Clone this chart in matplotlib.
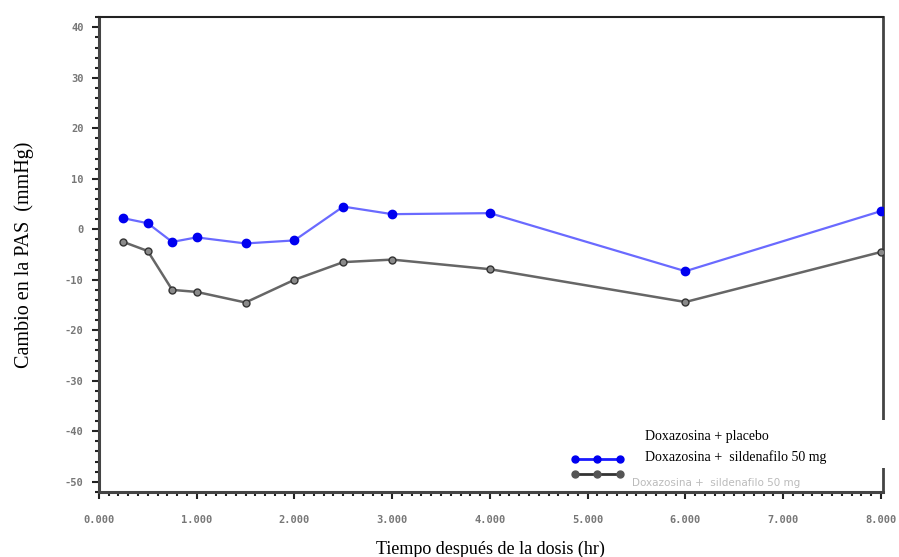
import matplotlib
matplotlib.use("Agg")
import matplotlib.pyplot as plt
from matplotlib.lines import Line2D
from matplotlib.patches import Rectangle
from matplotlib.ticker import MultipleLocator, FormatStrFormatter

time_hr = [0.25, 0.5, 0.75, 1.0, 1.5, 2.0, 2.5, 3.0, 4.0, 6.0, 8.0]
placebo = [2.2, 1.2, -2.5, -1.6, -2.8, -2.2, 4.5, 3.0, 3.2, -8.3, 3.6]
sildenafil = [-2.5, -4.3, -12.0, -12.4, -14.5, -10.0, -6.5, -6.0, -7.9, -14.4, -4.5]
labels = ["Doxazosina + placebo", "Doxazosina +  sildenafilo 50 mg"]

fig = plt.figure(figsize=(8.99, 5.57), dpi=100)
ax = fig.add_axes([0.110, 0.117, 0.872, 0.852])

ax.plot(time_hr, placebo, color="#6a6aff", lw=1.6, marker="o", ms=6,
        mfc="#0000f0", mec="#0000f0", zorder=3)
ax.plot(time_hr, sildenafil, color="#666666", lw=1.8, marker="o", ms=5,
        mfc="#8a8a8a", mec="#333333", mew=1.0, zorder=3)

ax.set_xlim(0, 8.02)
ax.set_ylim(-52, 42)
ax.xaxis.set_major_locator(MultipleLocator(1))
ax.xaxis.set_minor_locator(MultipleLocator(0.1))
ax.yaxis.set_major_locator(MultipleLocator(10))
ax.yaxis.set_minor_locator(MultipleLocator(2))
ax.xaxis.set_major_formatter(FormatStrFormatter("%.3f"))
ax.yaxis.set_major_formatter(FormatStrFormatter("%d"))

for lab in ax.get_xticklabels() + ax.get_yticklabels():
    lab.set_fontfamily("DejaVu Sans Mono")
    lab.set_fontsize(7.5)
    lab.set_fontweight("bold")
    lab.set_color("#777777")
ax.tick_params(axis="both", which="major", length=5, width=1.5, color="#222222", pad=6)
ax.tick_params(axis="both", which="minor", length=3, width=1.5, color="#222222")
ax.tick_params(axis="x", pad=12)

for s in ["left", "bottom"]:
    ax.spines[s].set_linewidth(2.2)
    ax.spines[s].set_color("#444444")
ax.spines["top"].set_linewidth(1.5)
ax.spines["top"].set_color("#222222")
ax.spines["right"].set_linewidth(2.0)
ax.spines["right"].set_color("#444444")

ax.set_ylabel("Cambio en la PAS  (mmHg)", family="Liberation Serif", fontsize=14.5, labelpad=22)
ax.set_xlabel("Tiempo después de la dosis (hr)", family="Liberation Serif", fontsize=13, labelpad=11)

# legend panel
ax.add_patch(Rectangle((0.60, 0.05), 0.42, 0.102, transform=ax.transAxes,
                       facecolor="white", edgecolor="none", zorder=4, clip_on=False))
ax.text(0.68, 0.012, labels[1], transform=ax.transAxes, family="DejaVu Sans",
        fontsize=7.5, color="#aaaaaa", zorder=5, alpha=0.8)
ax.text(0.696, 0.116, labels[0], transform=ax.transAxes, family="Liberation Serif",
        fontsize=10, color="black", zorder=6, va="center")
ax.text(0.696, 0.074, labels[1], transform=ax.transAxes, family="Liberation Serif",
        fontsize=10, color="black", zorder=6, va="center")
for yy, c, mc in [(0.070, "#1a1aff", "#0000f0"), (0.037, "#333333", "#555555")]:
    ax.add_line(Line2D([0.605, 0.667], [yy, yy], transform=ax.transAxes,
                       color=c, lw=2, zorder=6, clip_on=False))
    ax.add_line(Line2D([0.607, 0.636, 0.665], [yy, yy, yy], transform=ax.transAxes,
                       ls="none", marker="o", ms=5, mfc=mc, mec=mc, zorder=6, clip_on=False))

fig.savefig("out.png", dpi=100)
